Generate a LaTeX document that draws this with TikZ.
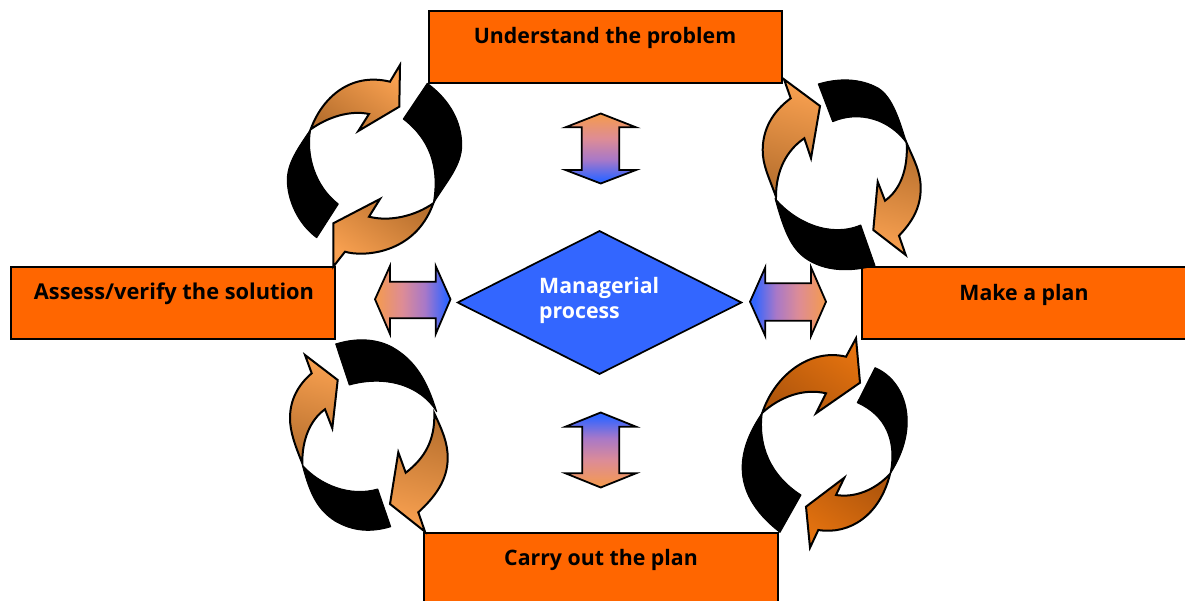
\documentclass[tikz,border=0pt]{standalone}
\usetikzlibrary{shapes.geometric}
\usepackage{fontspec}
\setmainfont{Open Sans}
\definecolor{boxorange}{HTML}{FF6600}
\definecolor{diamondblue}{HTML}{3366FF}
\definecolor{lightor}{HTML}{F59B4C}
\definecolor{ringlight}{HTML}{F8A050}
\definecolor{darkor}{HTML}{B8702E}
\definecolor{deepor}{HTML}{E4720F}
\definecolor{deepdark}{HTML}{B0560C}
\definecolor{gradpink}{HTML}{DD8C96}
\definecolor{gradlilac}{HTML}{A878C8}
\pgfdeclareverticalshading{blueup}{100bp}{color(0bp)=(lightor); color(25bp)=(lightor); color(43bp)=(gradpink); color(58bp)=(gradlilac); color(72bp)=(diamondblue); color(100bp)=(diamondblue)}
\pgfdeclareverticalshading{bluedown}{100bp}{color(0bp)=(diamondblue); color(28bp)=(diamondblue); color(42bp)=(gradlilac); color(57bp)=(gradpink); color(75bp)=(lightor); color(100bp)=(lightor)}
\pgfdeclarehorizontalshading{blueright}{100bp}{color(0bp)=(lightor); color(25bp)=(lightor); color(43bp)=(gradpink); color(58bp)=(gradlilac); color(72bp)=(diamondblue); color(100bp)=(diamondblue)}
\pgfdeclarehorizontalshading{blueleft}{100bp}{color(0bp)=(diamondblue); color(28bp)=(diamondblue); color(42bp)=(gradlilac); color(57bp)=(gradpink); color(75bp)=(lightor); color(100bp)=(lightor)}
\tikzset{
  stepbox/.style={draw=black,line width=2pt,fill=boxorange,anchor=north west,inner sep=0pt,outer sep=0pt,minimum height=72pt},
  boxlabel/.style={font=\fontsize{21.3}{24}\selectfont\bfseries,text=black,inner sep=0pt},
  ringblack/.style={fill=black,draw=black,line width=1pt,line join=round},
  ringor/.style={draw=black,line width=2pt,line join=miter,top color=ringlight,bottom color=darkor},
  ringdeep/.style={draw=black,line width=2pt,line join=miter,top color=deepor,bottom color=deepdark},
  dblarrow/.style={draw=black,line width=1.8pt},
}
\begin{document}
\begin{tikzpicture}[x=1pt,y=-1pt]
\useasboundingbox (0,0) rectangle (1185,601);
\clip (0,0) rectangle (1185,601);
% boxes
\node[stepbox,minimum width=353pt] (top) at (429,11) {};
\node[stepbox,minimum width=324pt] (left) at (11,267) {};
\node[stepbox,minimum width=326pt] (right) at (862,267) {};
\node[stepbox,minimum width=354pt] (bottom) at (424,533) {};
\node[boxlabel] (toplabel) at (605,38) {Understand the problem};
\node[boxlabel] (leftlabel) at (174,294) {\fontsize{21.8}{24}\selectfont Assess/verify the solution};
\node[boxlabel] (rightlabel) at (1024,295) {Make a plan};
\node[boxlabel] (bottomlabel) at (601,560) {Carry out the plan};
% centre
\node[diamond,fill=diamondblue,draw=black,line width=1.7pt,inner sep=0pt,minimum width=284.4pt,minimum height=143.6pt] (centre) at (599.5,302.5) {};
\node[font=\fontsize{21.3}{25}\selectfont\bfseries,text=white,align=left,anchor=west,inner sep=0pt] (centrelabel) at (539,300) {Managerial\\process};
% double arrows
\path[dblarrow,shading=bluedown] (600.7,113.5) -- (636,127.3) -- (619.3,127.3) -- (619.3,170) -- (636,170) -- (600.7,183.5) -- (565.5,170) -- (581.7,170) -- (581.7,127.3) -- (565.5,127.3) -- cycle;
\path[dblarrow,shading=blueup] (600.7,412.5) -- (636,426.7) -- (619.3,426.7) -- (619.3,473.3) -- (636,473.3) -- (600.7,487.5) -- (565.5,473.3) -- (582.3,473.3) -- (582.3,426.7) -- (565.5,426.7) -- cycle;
\path[dblarrow,shading=blueright] (375,299.3) -- (390,266) -- (390,281.7) -- (435.7,281.7) -- (435.7,266) -- (450.5,299.3) -- (435.7,334) -- (435.7,318.3) -- (390,318.3) -- (390,334) -- cycle;
\path[dblarrow,shading=blueleft] (750,301.7) -- (765.3,267.3) -- (765.3,283.3) -- (811,283.3) -- (811,267.3) -- (826,301.7) -- (811,336) -- (811,320.7) -- (765.3,320.7) -- (765.3,336) -- cycle;
% top-left ring
\path[ringblack] (427.3,83.3) .. controls (450,100) and (461.7,122) .. (461.7,145) .. controls (461.7,165) and (448,180) .. (433.3,203.3) .. controls (440,165) and (428,138) .. (403.3,119) -- cycle;
\path[ringblack] (310.7,129.3) .. controls (298,148) and (287.3,163) .. (287.3,180) .. controls (287.3,200) and (298,224) .. (316.7,237.7) -- (338.3,204) .. controls (315,186) and (306,155) .. (310.7,129.3) -- cycle;
\path[ringor,shading angle=-35] (310.7,129.3) .. controls (322,98) and (350,72) .. (390,81.7) -- (400,65) -- (399.3,106.7) -- (358.3,131) -- (369,114) .. controls (350,110) and (328,117) .. (310.7,129.3) -- cycle;
\path[ringor,shading angle=145] (433.3,203.3) .. controls (415,216) and (390,222) .. (369,216.7) -- (380,199) -- (333.3,223.3) -- (333.3,266.7) -- (345,251.7) .. controls (362,257) and (415,255) .. (433.3,203.3) -- cycle;
% top-right ring
\path[ringblack] (818.3,84) .. controls (838,78) and (860,78) .. (878,88) .. controls (893,97) and (900,122) .. (906.7,143.3) .. controls (890,120) and (860,110) .. (832.7,121.7) -- cycle;
\path[ringblack] (775,198.3) .. controls (795,222) and (830,238) .. (860.7,225) -- (875,265.7) .. controls (850,272) and (825,272) .. (805,258) .. controls (792,248) and (785,235) .. (775,198.3) -- cycle;
\path[ringor,shading angle=-15] (776,196.7) .. controls (768,175) and (762.7,165) .. (762.7,150) .. controls (762.7,130) and (772,112) .. (790.7,98.3) -- (784,79.3) -- (820,106) -- (811,158.3) -- (804.3,138.3) .. controls (787,150) and (776,170) .. (776,196.7) -- cycle;
\path[ringor,shading angle=165] (906.7,143.3) .. controls (914,160) and (920.7,172) .. (920.7,188) .. controls (920.7,208) and (912,222) .. (899,235.7) -- (905.7,255) -- (873.3,230) -- (877.7,181.7) -- (885,200.7) .. controls (900,190) and (908,170) .. (906.7,143.3) -- cycle;
% bottom-left ring
\path[ringblack] (335.7,344) .. controls (355,338) and (375,338) .. (392,347) .. controls (415,360) and (427,380) .. (436.7,411.7) .. controls (420,385) and (385,375) .. (349.3,385) -- cycle;
\path[ringblack] (302.3,465) .. controls (320,485) and (350,497) .. (377.7,489) -- (390.7,526.7) .. controls (370,533) and (352,531) .. (335,521) .. controls (318,510) and (310,495) .. (302.3,465) -- cycle;
\path[ringor,shading angle=-15] (302.3,463.3) .. controls (295,445) and (290,432) .. (290,418) .. controls (290,400) and (298,385) .. (311.7,373.3) -- (305,355) -- (337.7,380) -- (332.3,428.3) -- (325,409.3) .. controls (310,420) and (302,440) .. (302.3,463.3) -- cycle;
\path[ringor,shading angle=165] (434.3,413.3) .. controls (442,430) and (447.7,442) .. (447.7,458) .. controls (447.7,480) and (435,497) .. (418.3,512.3) -- (425,531.7) -- (390,504) -- (398.3,452.3) -- (405.7,472.7) .. controls (425,458) and (435,440) .. (434.3,413.3) -- cycle;
% bottom-right ring
\path[ringblack] (875,367.7) .. controls (905,380) and (922,425) .. (890,474) .. controls (897,440) and (885,415) .. (857.3,402.7) -- cycle;
\path[ringblack] (762.3,412.7) .. controls (740,445) and (725,490) .. (780,532.3) -- (801,495) .. controls (770,475) and (758,445) .. (762.3,412.7) -- cycle;
\path[ringdeep,shading angle=-35] (762.3,412.7) .. controls (775,375) and (810,348) .. (846,356.7) -- (856,338.3) -- (860,382.7) -- (816,413.3) -- (826,393.3) .. controls (803,388) and (780,397) .. (762.3,412.7) -- cycle;
\path[ringdeep,shading angle=145] (890,474) .. controls (875,490) and (855,498) .. (836,495) -- (844.3,477.7) -- (806,506.7) -- (810,547.7) -- (818.3,530) .. controls (850,535) and (880,515) .. (890,474) -- cycle;
\end{tikzpicture}
\end{document}
